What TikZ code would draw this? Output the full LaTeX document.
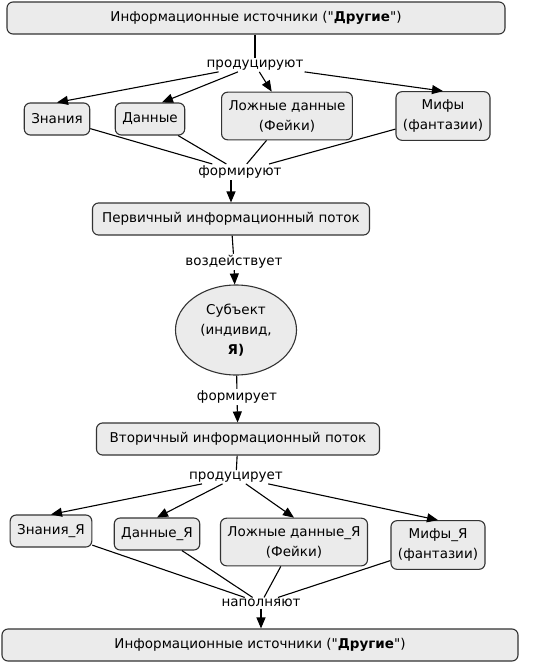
\documentclass[tikz,border=0pt]{standalone}
\usepackage{fontspec}
\setmainfont{DejaVu Sans}
\usetikzlibrary{arrows.meta,shapes.geometric}

\begin{document}
\begin{tikzpicture}[
  x=1pt, y=-1pt,
  font=\fontsize{13.5}{20}\selectfont,
  box/.style={draw=black!80, line width=1.1pt, rounded corners=6pt, fill=black!8, align=center, inner xsep=7pt, inner ysep=8pt, minimum height=32pt},
  lbl/.style={inner sep=1.5pt},
  arr/.style={-{Triangle[length=11pt,width=9pt]}, line width=1.1pt},
  ln/.style={line width=1.1pt},
]
\useasboundingbox (0,0) rectangle (557,664);
% upper half
\node[box, minimum width=498pt] (src) at (256,18) {Информационные источники (\textquotedbl\textbf{Другие}\textquotedbl)};
\node[lbl] (prod1) at (255,65) {продуцируют};
\node[box] (zn) at (57,119) {Знания};
\node[box] (dn) at (150,119) {Данные};
\node[box] (fk) at (287,116) {Ложные данные\\(Фейки)};
\node[box] (mf) at (443,116) {Мифы\\(фантазии)};
\node[lbl] (form1) at (240,172) {формируют};
\node[box, minimum width=277pt] (pri) at (231,219) {Первичный информационный поток};
\node[lbl] (act) at (234,262) {воздействует};
\node[ellipse, draw=black!80, line width=1.1pt, fill=black!8, minimum width=121pt, minimum height=90pt, align=center, inner sep=0pt] (subj) at (236,330) {Субъект\\(индивид,\\\textbf{Я)}};
% lower half
\node[lbl] (form2) at (237,397) {формирует};
\node[box, minimum width=283pt] (sec) at (238,439) {Вторичный информационный поток};
\node[lbl] (prod2) at (236,477) {продуцирует};
\node[box] (znj) at (51,531) {Знания\_Я};
\node[box] (dnj) at (157,534) {Данные\_Я};
\node[box] (fkj) at (294,542) {Ложные данные\_Я\\(Фейки)};
\node[box] (mfj) at (438,545) {Мифы\_Я\\(фантазии)};
\node[lbl] (napol) at (261,603) {наполняют};
\node[box, minimum width=516pt] (dst) at (260,645) {Информационные источники (\textquotedbl\textbf{Другие}\textquotedbl)};

\draw[ln] (src.south -| prod1) -- (prod1);
\draw[arr] (prod1) -- (zn.north);
\draw[arr] (prod1) -- ([xshift=12pt]dn.north);
\draw[arr] (prod1) -- (fk);
\draw[arr] (prod1) -- (mf.north);
\foreach \s in {zn,dn,fk,mf} \draw[ln] (\s) -- (form1);
\draw[arr] (form1.south -| pri) -- (pri.north);
\draw[ln] (pri) -- (act);
\draw[arr] (act) -- (subj);
\draw[ln] (subj) -- (form2);
\draw[arr] (form2) -- (sec);
\draw[ln] (sec) -- (prod2);
\foreach \t in {znj,dnj,fkj,mfj} \draw[arr] (prod2) -- (\t.north);
\foreach \s in {znj,dnj,fkj,mfj} \draw[ln] (\s) -- (napol);
\draw[arr] (napol) -- (napol |- dst.north);
\end{tikzpicture}
\end{document}
